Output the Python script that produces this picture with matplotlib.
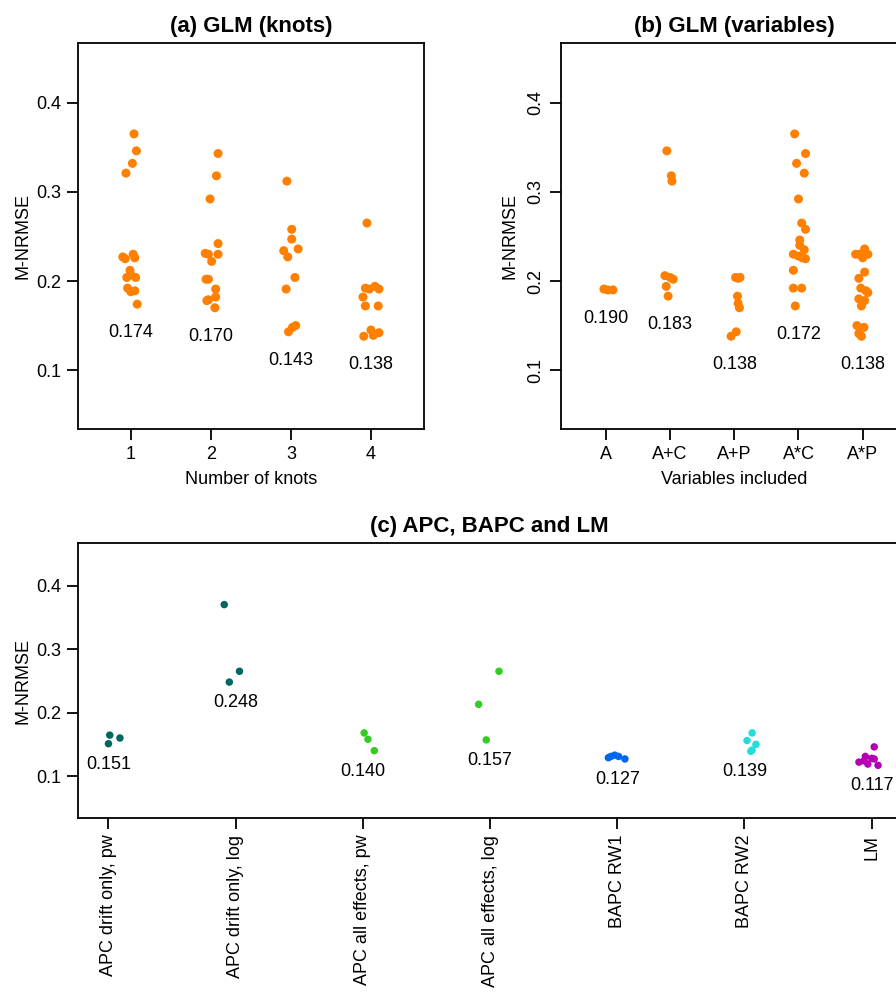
'''
M-NRMSE of the fitted models: GLM by number of knots, GLM by variables,
and the APC / BAPC / LM alternatives.
'''

import matplotlib
matplotlib.use('Agg')
from matplotlib import pyplot as pl
import numpy as np

pl.rcParams['font.family'] = ['Liberation Sans', 'DejaVu Sans']
pl.rcParams['font.size'] = 13

# (a) GLM, number of knots
knots_labels = ['1', '2', '3', '4']
knots_values = [
    [0.365, 0.346, 0.332, 0.321, 0.227, 0.225, 0.230, 0.226, 0.212, 0.204,
     0.207, 0.204, 0.192, 0.188, 0.189, 0.174],
    [0.343, 0.318, 0.292, 0.242, 0.231, 0.230, 0.230, 0.222, 0.202, 0.202,
     0.191, 0.182, 0.178, 0.179, 0.170],
    [0.312, 0.258, 0.247, 0.234, 0.236, 0.227, 0.204, 0.191, 0.143, 0.148,
     0.150],
    [0.265, 0.192, 0.194, 0.191, 0.191, 0.182, 0.172, 0.172, 0.138, 0.145,
     0.139, 0.142],
]
knots_jitter = [
    [0.04, 0.07, 0.02, -0.06, -0.10, -0.07, 0.03, 0.05, -0.01, -0.05,
     0.00, 0.06, -0.04, 0.00, 0.05, 0.08],
    [0.09, 0.07, -0.01, 0.09, -0.07, -0.03, 0.09, 0.01, -0.06, -0.03,
     0.06, 0.06, -0.05, -0.03, 0.05],
    [-0.05, 0.01, 0.01, -0.09, 0.09, -0.04, 0.05, -0.06, -0.03, 0.02, 0.06],
    [-0.05, -0.07, 0.05, 0.10, -0.02, -0.10, -0.07, 0.09, -0.09, 0.00,
     0.03, 0.10],
]

# (b) GLM, variables included
vars_labels = ['A', 'A+C', 'A+P', 'A*C', 'A*P']
vars_values = [
    [0.191, 0.190, 0.190],
    [0.346, 0.318, 0.312, 0.206, 0.204, 0.202, 0.194, 0.183],
    [0.204, 0.203, 0.204, 0.183, 0.175, 0.170, 0.138, 0.143],
    [0.365, 0.343, 0.332, 0.321, 0.292, 0.265, 0.258, 0.246, 0.240, 0.235,
     0.230, 0.228, 0.226, 0.225, 0.212, 0.192, 0.192, 0.172],
    [0.230, 0.230, 0.236, 0.230, 0.226, 0.210, 0.203, 0.192, 0.189, 0.187,
     0.180, 0.178, 0.172, 0.150, 0.147, 0.148, 0.138, 0.141],
]
vars_jitter = [
    [-0.03, 0.03, 0.11],
    [-0.05, 0.02, 0.03, -0.08, 0.00, 0.05, -0.06, -0.03],
    [0.02, 0.06, 0.09, 0.05, 0.06, 0.08, -0.05, 0.03],
    [-0.06, 0.11, -0.03, 0.09, 0.00, 0.05, 0.11, 0.02, 0.02, 0.09,
     -0.08, 0.00, 0.06, 0.11, -0.08, -0.08, 0.05, -0.05],
    [-0.11, -0.05, 0.03, 0.08, 0.00, 0.03, -0.06, -0.03, 0.05, 0.08,
     -0.06, 0.03, -0.02, -0.09, -0.02, 0.02, -0.02, -0.06],
]

# (c) APC, BAPC and LM
models_labels = ['APC drift only, pw', 'APC drift only, log',
                 'APC all effects, pw', 'APC all effects, log',
                 'BAPC RW1', 'BAPC RW2', 'LM']
models_values = [
    [0.1645, 0.160, 0.151],
    [0.370, 0.265, 0.248],
    [0.168, 0.158, 0.140],
    [0.265, 0.213, 0.157],
    [0.129, 0.131, 0.133, 0.131, 0.127],
    [0.168, 0.156, 0.150, 0.141, 0.139],
    [0.146, 0.131, 0.128, 0.122, 0.119, 0.117, 0.127, 0.124],
]
models_jitter = [
    [0.01, 0.09, 0.00],
    [-0.09, 0.03, -0.05],
    [0.01, 0.04, 0.09],
    [0.07, -0.09, -0.03],
    [-0.07, -0.05, -0.02, 0.01, 0.06],
    [0.06, 0.02, 0.09, 0.06, 0.05],
    [0.02, -0.05, 0.00, -0.10, -0.03, 0.05, 0.02, -0.06],
]
models_colors = ['#00665e', '#00665e', '#33cc22', '#33cc22',
                 '#0066ee', '#22dddd', '#b300b3']

orange = '#ff8000'
yticks = [0.1, 0.2, 0.3, 0.4]


def style(ax):
    for sp in ax.spines.values():
        sp.set_linewidth(1.3)
    ax.tick_params(direction='out', length=8, width=1.3, pad=4,
                   labelsize=13)
    ax.set_ylim(0.034, 0.467)
    ax.set_yticks(yticks)
    ax.set_yticklabels(['%.1f' % t for t in yticks])


def draw_groups(ax, values, jitter, colors, size):
    for i, (vals, jit) in enumerate(zip(values, jitter)):
        x = i + 1 + np.array(jit)
        ax.scatter(x, vals, s=size, color=colors[i], edgecolors='none',
                   zorder=3, clip_on=False)
        low = min(vals)
        ax.text(i + 1, low - 0.032, '%.3f' % low, ha='center', va='center',
                fontsize=13)


fig = pl.figure(figsize=(8.96, 9.93), dpi=100)
ax_a = fig.add_axes([0.087, 0.568, 0.386, 0.3887])
ax_b = fig.add_axes([0.626, 0.568, 0.387, 0.3887])
ax_c = fig.add_axes([0.087, 0.1762, 0.9185, 0.277])

# (a)
style(ax_a)
draw_groups(ax_a, knots_values, knots_jitter, [orange]*4, 42)
ax_a.set_xlim(0.34, 4.66)
ax_a.set_xticks(range(1, len(knots_labels)+1))
ax_a.set_xticklabels(knots_labels)
ax_a.set_xlabel('Number of knots', fontsize=13)
ax_a.xaxis.set_label_coords(0.5, -0.108)
ax_a.set_ylabel('M-NRMSE', fontsize=13)
ax_a.yaxis.set_label_coords(-0.133, 0.5)
ax_a.set_title('(a) GLM (knots)', fontweight='bold', fontsize=16, pad=8)

# (b)
style(ax_b)
draw_groups(ax_b, vars_values, vars_jitter, [orange]*5, 42)
ax_b.set_xlim(0.30, 5.70)
ax_b.set_xticks(range(1, len(vars_labels)+1))
ax_b.set_xticklabels(vars_labels)
for lab in ax_b.get_yticklabels():
    lab.set_rotation(90)
    lab.set_va('center')
ax_b.set_xlabel('Variables included', fontsize=13)
ax_b.xaxis.set_label_coords(0.5, -0.108)
ax_b.set_ylabel('M-NRMSE', fontsize=13)
ax_b.yaxis.set_label_coords(-0.121, 0.5)
ax_b.set_title('(b) GLM (variables)', fontweight='bold', fontsize=16, pad=8)

# (c)
style(ax_c)
draw_groups(ax_c, models_values, models_jitter, models_colors, 29)
ax_c.set_xlim(0.76, 7.23)
ax_c.set_xticks(range(1, len(models_labels)+1))
ax_c.set_xticklabels(models_labels, rotation=90)
ax_c.set_ylabel('M-NRMSE', fontsize=13)
ax_c.yaxis.set_label_coords(-0.057, 0.5)
ax_c.set_title('(c) APC, BAPC and LM', fontweight='bold', fontsize=16,
               pad=8)

fig.savefig('out.png', dpi=100)
pl.close('all')
